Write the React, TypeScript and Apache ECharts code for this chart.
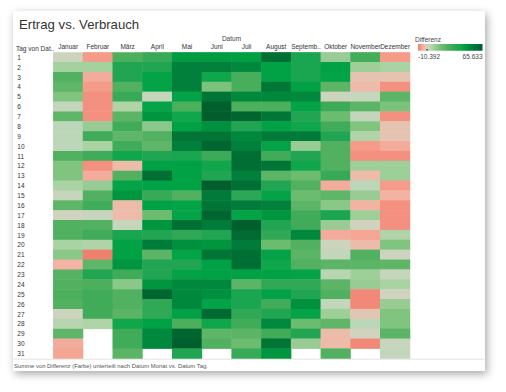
import React, { useEffect, useRef } from 'react';
import * as echarts from 'echarts';

const months = ['Januar', 'Februar', 'März', 'April', 'Mai', 'Juni', 'Juli', 'August', 'September', 'Oktober', 'November', 'Dezember'];
const days = Array.from({ length: 31 }, (_, i) => String(i + 1));

const januar = [1, 8, 24, 21, 14, 3, 21, 4, 4, 4, 24, 14, 14, 7, 2, 21, 0.5, 24, 24, 7, 12, -4, 23, 24, 25, 24, 1, 5, 21, -5, -6];
const februar = [-7, 8, -5, -7, -8, -8, -8, 10, 28, 7, 28, -8, -5, 10, 24, 28, 2, 24, 28, 6, -10.392, 21, 35, 25, 28, 28, 28, 6, null, null, null];
const maerz = [25, 35, 35, 24, 30, 6, 22, 28, 21, 28, 40, -3, 24, 42, 47, -3, -3, 2, 38, 43, 43, 47, 28, 12, 24, 24, 22, 40, 28, 28, 22];
const april = [30, 35, 42, 42, 2, 42, 47, 12, 24, 21, 35, 43, 60, 43, 30, 43, 18, 47, 35, 55, 22, 35, 35, 47, 62, 32, 32, 43, 50, 50, null];
const mai = [45, 53, 53, 53, 42, 25, 40, 43, 57, 53, 38, 43, 43, 43, 24, 42, 42, 60, 32, 48, 42, 35, 42, 50, 50, 50, 43, 25, 62, 65, 35];
const juni = [45, 53, 40, 15, 57, 64, 65.633, 48, 57, 62, 29, 40, 35, 65, 55, 57, 62, 55, 35, 47, 57, 43, 43, 50, 48, 42, 61, 40, 21, 24, null];
const juli = [44, 50, 26, 26, 50, 25, 62, 35, 50, 53, 60, 60, 53, 60, 33, 55, 42, 65, 61, 55, 60, 60, 43, 22, 38, 38, 32, 28, 22, 18, 30];
const august = [60, 43, 43, 56, 50, 25, 56, 43, 55, 42, 28, 57, 22, 35, 42, 53, 47, 35, 32, 18, 42, 40, 43, 32, 43, 28, 35, 50, 28, 57, 47];
const september = [38, 38, 38, 43, 50, 42, 35, 40, 55, 10, 35, 40, 18, 24, 18, 22, 28, 28, 50, 24, 22, 24, 42, 32, 35, 48, 42, 18, 35, 10, null];
const oktober = [10, 43, 42, 22, 1, 29, 18, 28, 35, 24, 24, 24, 30, -5, 21, 12, 38, 10, -5, 1, 3, 22, 5, 22, 24, 3, 9, 21, -3, -3, 24];
const november = [27, 9, -2, -3, 2, 22, 3, 14, 6, -7, -8, 9, -3, 4, 10, -4, 9, 0.5, -6, -3, 24, 22, 9, 10, -9, -9, -1.5, 4, 0.5, -9, null];
const dezember = [-7, 7, -2, -8, 22, 15, -8, -2, -2, -5, -8, 9, 9, -7, -4, -8, -8, -8, 6, 14, 1, 21, 2, 7, 0.5, 10, 14, 14, 22, 2, 3];

const monthValues = [januar, februar, maerz, april, mai, juni, juli, august, september, oktober, november, dezember];

const valueMin = -10.392;
const valueMax = 65.633;
const minLabel = '-10.392';
const maxLabel = '65.633';

const colorStops: [number, string][] = [
  [-10.392, '#f0806e'],
  [-8, '#f3907f'],
  [-6, '#f4a594'],
  [-4, '#f2b3a2'],
  [-2, '#e6c3b0'],
  [0, '#d3d1be'],
  [2, '#c5d6bd'],
  [4, '#bcd6b8'],
  [6, '#b0d4a8'],
  [8, '#a4d29e'],
  [10, '#98cc94'],
  [12, '#8ac889'],
  [14, '#80c480'],
  [18, '#6cbc70'],
  [22, '#5cb466'],
  [25, '#4caf5c'],
  [28, '#40ab58'],
  [32, '#30a856'],
  [35, '#22a552'],
  [38, '#1aa550'],
  [40, '#10a64c'],
  [43, '#00a245'],
  [47, '#00953f'],
  [50, '#00893d'],
  [53, '#00803b'],
  [57, '#007536'],
  [60, '#006f34'],
  [62, '#006530'],
  [65.633, '#005e2c'],
];

function hexToRgb(h: string) {
  const n = parseInt(h.slice(1), 16);
  return [(n >> 16) & 255, (n >> 8) & 255, n & 255];
}
function toHex(c: number[]) {
  return '#' + c.map((v) => Math.round(v).toString(16).padStart(2, '0')).join('');
}
function colorAt(v: number) {
  if (v <= colorStops[0][0]) return colorStops[0][1];
  for (let i = 1; i < colorStops.length; i++) {
    const [v1, c1] = colorStops[i];
    const [v0, c0] = colorStops[i - 1];
    if (v <= v1) {
      const t = (v - v0) / (v1 - v0);
      const a = hexToRgb(c0);
      const b = hexToRgb(c1);
      return toHex(a.map((x, k) => x + (b[k] - x) * t));
    }
  }
  return colorStops[colorStops.length - 1][1];
}

export default function App() {
  const ref = useRef<HTMLDivElement>(null);
  useEffect(() => {
    document.body.style.margin = '0';
    const chart = echarts.init(ref.current!, undefined, { renderer: 'svg' });
    const N = 200;
    const samples = Array.from({ length: N + 1 }, (_, i) => colorAt(valueMin + ((valueMax - valueMin) * i) / N));
    const data: [number, number, number][] = [];
    monthValues.forEach((arr, x) => {
      arr.forEach((v, y) => {
        if (v !== null && v !== undefined) data.push([x, y, v as number]);
      });
    });
    const gradientStops = colorStops.map(([v, c]) => ({ offset: (v - valueMin) / (valueMax - valueMin), color: c }));
    const font = 'Arial, "Liberation Sans", sans-serif';
    chart.setOption({
      animation: false,
      backgroundColor: '#ffffff',
      grid: { left: 53.3, right: 96, top: 52.4, bottom: 33.5 },
      xAxis: {
        type: 'category',
        position: 'top',
        data: months,
        axisLine: { show: false },
        axisTick: { show: false },
        splitLine: { show: false },
        axisLabel: {
          fontSize: 6.5,
          color: '#333',
          fontFamily: font,
          margin: 2,
          interval: 0,
          formatter: (s: string) => (s.length > 8 ? s.slice(0, 7) + '..' : s),
        },
      },
      yAxis: {
        type: 'category',
        inverse: true,
        data: days,
        axisLine: { show: false },
        axisTick: { show: false },
        splitLine: { show: false },
        axisLabel: { fontSize: 6.5, color: '#333', fontFamily: font, align: 'left', margin: 36, interval: 0 },
      },
      visualMap: {
        show: false,
        type: 'continuous',
        min: valueMin,
        max: valueMax,
        dimension: 2,
        inRange: { color: samples },
      },
      series: [
        {
          type: 'heatmap',
          data,
          itemStyle: { borderWidth: 0 },
          emphasis: { disabled: true },
        },
      ],
      graphic: [
        {
          type: 'rect',
          z: -10,
          shape: { x: 13, y: 11, width: 472, height: 360 },
          style: { fill: '#ffffff', shadowBlur: 8, shadowColor: 'rgba(0,0,0,0.35)', shadowOffsetX: 2, shadowOffsetY: 3 },
        },
        {
          type: 'text',
          x: 19,
          y: 24.5,
          style: { text: 'Ertrag vs. Verbrauch', fontSize: 13.2, fontFamily: font, fill: '#333', verticalAlign: 'middle' },
        },
        {
          type: 'text',
          x: 231.5,
          y: 38,
          style: { text: 'Datum', fontSize: 6.5, fontFamily: font, fill: '#444', align: 'center', verticalAlign: 'middle' },
        },
        {
          type: 'text',
          x: 16,
          y: 48,
          style: { text: 'Tag von Dat..', fontSize: 6.5, fontFamily: font, fill: '#333', verticalAlign: 'middle' },
        },
        {
          type: 'text',
          x: 415,
          y: 39,
          style: { text: 'Differenz', fontSize: 6.5, fontFamily: font, fill: '#444', verticalAlign: 'middle' },
        },
        {
          type: 'rect',
          shape: { x: 418, y: 44, width: 64.5, height: 6.7 },
          style: { fill: new echarts.graphic.LinearGradient(0, 0, 1, 0, gradientStops) },
        },
        {
          type: 'rect',
          shape: { x: 426.5, y: 49, width: 1.2, height: 1.8 },
          style: { fill: '#333' },
        },
        {
          type: 'text',
          x: 418,
          y: 56,
          style: { text: minLabel, fontSize: 6.5, fontFamily: font, fill: '#444', verticalAlign: 'middle' },
        },
        {
          type: 'text',
          x: 482.5,
          y: 56,
          style: { text: maxLabel, fontSize: 6.5, fontFamily: font, fill: '#444', align: 'right', verticalAlign: 'middle' },
        },
        {
          type: 'line',
          shape: { x1: 14, y1: 359.2, x2: 484, y2: 359.2 },
          style: { stroke: '#e3e3e3', lineWidth: 1 },
        },
        {
          type: 'text',
          x: 14,
          y: 366,
          style: {
            text: 'Summe von Differenz (Farbe) unterteilt nach Datum Monat vs. Datum Tag.',
            fontSize: 5.9,
            fontFamily: font,
            fill: '#555',
            verticalAlign: 'middle',
          },
        },
      ],
    });
    return () => chart.dispose();
  }, []);
  return <div ref={ref} style={{ width: 506, height: 392 }} />;
}
